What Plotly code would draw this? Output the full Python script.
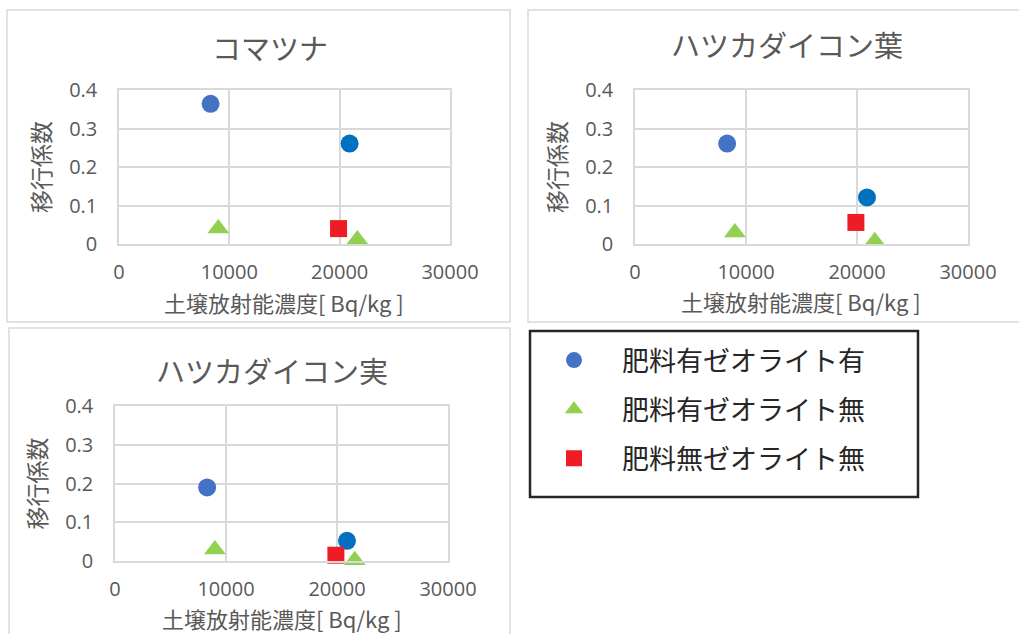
import plotly.graph_objects as go

# ---------------- data ----------------
panel_titles = ["コマツナ", "ハツカダイコン葉", "ハツカダイコン実"]
series_names = ["肥料有ゼオライト有", "肥料有ゼオライト無", "肥料無ゼオライト無"]
x_title = "土壌放射能濃度[ Bq/kg ]"
y_title = "移行係数"

# soil radioactivity [Bq/kg] per series
soil_fert_zeo = [8300, 20900]
soil_fert_nozeo = [9000, 21600]
soil_nofert_nozeo = [19900]

# transfer coefficients
komatsuna_fert_zeo = [0.364, 0.261]
komatsuna_fert_nozeo = [0.040, 0.012]
komatsuna_nofert_nozeo = [0.040]

leaf_fert_zeo = [0.261, 0.121]
leaf_fert_nozeo = [0.030, 0.007]
leaf_nofert_nozeo = [0.056]

root_fert_zeo = [0.190, 0.052]
root_fert_nozeo = [0.030, 0.002]
root_nofert_nozeo = [0.015]

x_ticks = [0, 10000, 20000, 30000]
y_ticks = [0, 0.1, 0.2, 0.3, 0.4]

# ---------------- styling ----------------
W, H = 1019, 634
CJK = "Noto Sans CJK JP"
GRAY = "#595959"
GRID = "#D9D9D9"
blue_cols = ["#4472C4", "#0070C0"]
green = "#92D050"
red = "#EE1C24"


def px_x(v):
    return v / W


def px_y(v):
    return 1 - v / H


# plot-area domains (pixels)
domains = [
    ((119, 450), (90, 244)),
    ((635, 968), (90, 244)),
    ((115, 448), (406, 561)),
]

panel_data = [
    (komatsuna_fert_zeo, komatsuna_fert_nozeo, komatsuna_nofert_nozeo),
    (leaf_fert_zeo, leaf_fert_nozeo, leaf_nofert_nozeo),
    (root_fert_zeo, root_fert_nozeo, root_nofert_nozeo),
]

fig = go.Figure()
layout = {}
annotations = []

for i, ((xd, yd), (zeo, nozeo, nofert)) in enumerate(zip(domains, panel_data)):
    n = "" if i == 0 else str(i + 1)
    xa, ya = "x" + n, "y" + n
    show = i == 0
    fig.add_trace(go.Scatter(
        x=soil_fert_zeo, y=zeo, mode="markers", name=series_names[0],
        legendgroup="g0", showlegend=show, cliponaxis=False,
        marker=dict(symbol="circle", size=18, color=blue_cols),
        xaxis=xa, yaxis=ya))
    fig.add_trace(go.Scatter(
        x=soil_fert_nozeo, y=nozeo, mode="markers", name=series_names[1],
        legendgroup="g1", showlegend=show, cliponaxis=False,
        marker=dict(symbol="triangle-up", size=19, color=green),
        xaxis=xa, yaxis=ya))
    fig.add_trace(go.Scatter(
        x=soil_nofert_nozeo, y=nofert, mode="markers", name=series_names[2],
        legendgroup="g2", showlegend=show, cliponaxis=False,
        marker=dict(symbol="square", size=17, color=red),
        xaxis=xa, yaxis=ya))

    layout["xaxis" + n] = dict(
        domain=[px_x(xd[0]), px_x(xd[1])], anchor=ya,
        range=[0, 30000], tickvals=x_ticks, tickformat="d",
        showgrid=True, gridcolor=GRID, gridwidth=1.5,
        showline=True, linecolor=GRID, linewidth=2, mirror=True,
        zeroline=False, ticks="", ticklabelstandoff=9, automargin=False,
        tickfont=dict(family="Open Sans", size=20, color=GRAY),
        fixedrange=True)
    layout["yaxis" + n] = dict(
        domain=[px_y(yd[1]), px_y(yd[0])], anchor=xa,
        range=[0, 0.4], tickvals=y_ticks,
        showgrid=True, gridcolor=GRID, gridwidth=1.5,
        showline=True, linecolor=GRID, linewidth=1.5, mirror=True,
        zeroline=False, ticks="", ticklabelstandoff=16, automargin=False,
        tickfont=dict(family="Open Sans", size=20, color=GRAY),
        title=dict(text=y_title, standoff=12,
                   font=dict(family=CJK, size=23, color=GRAY)),
        fixedrange=True)

# chart titles
title_pos = [(270, 47), (787, 44), (272, 370)]
for t, (cx, cy) in zip(panel_titles, title_pos):
    annotations.append(dict(
        text=t, xref="paper", yref="paper", x=px_x(cx), y=px_y(cy),
        xanchor="center", yanchor="middle", showarrow=False,
        font=dict(family=CJK, size=29, color=GRAY)))

# x-axis titles
xtitle_pos = [(284, 302), (801, 301), (282, 618)]
for cx, cy in xtitle_pos:
    annotations.append(dict(
        text=x_title, xref="paper", yref="paper", x=px_x(cx), y=px_y(cy),
        xanchor="center", yanchor="middle", showarrow=False,
        font=dict(family=CJK, size=22, color=GRAY)))

# chart-area frames and legend frame
frames = [(7, 10, 510, 322), (528, 10, 1030, 322), (9, 328, 510, 650)]
shapes = []
for x0, y0, x1, y1 in frames:
    shapes.append(dict(type="rect", xref="paper", yref="paper",
                       x0=px_x(x0), x1=px_x(x1), y0=px_y(y1), y1=px_y(y0),
                       line=dict(color=GRID, width=1.5), layer="below"))
shapes.append(dict(type="rect", xref="paper", yref="paper",
                   x0=px_x(530), x1=px_x(918), y0=px_y(497), y1=px_y(331),
                   line=dict(color="#262626", width=2.5)))

fig.update_layout(
    **layout,
    width=W, height=H,
    margin=dict(l=0, r=0, t=0, b=0, autoexpand=False),
    paper_bgcolor="white", plot_bgcolor="white",
    annotations=annotations, shapes=shapes,
    showlegend=True,
    legend=dict(x=px_x(526), y=px_y(336), xanchor="left", yanchor="top",
                bgcolor="rgba(0,0,0,0)", borderwidth=0,
                font=dict(family=CJK, size=27, color="#262626"),
                tracegroupgap=11, itemwidth=86),
)

fig.write_html(
    "out.html",
    config={"displayModeBar": False},
    post_script="document.body.style.margin='0';"
                "document.body.style.overflow='hidden';",
)
